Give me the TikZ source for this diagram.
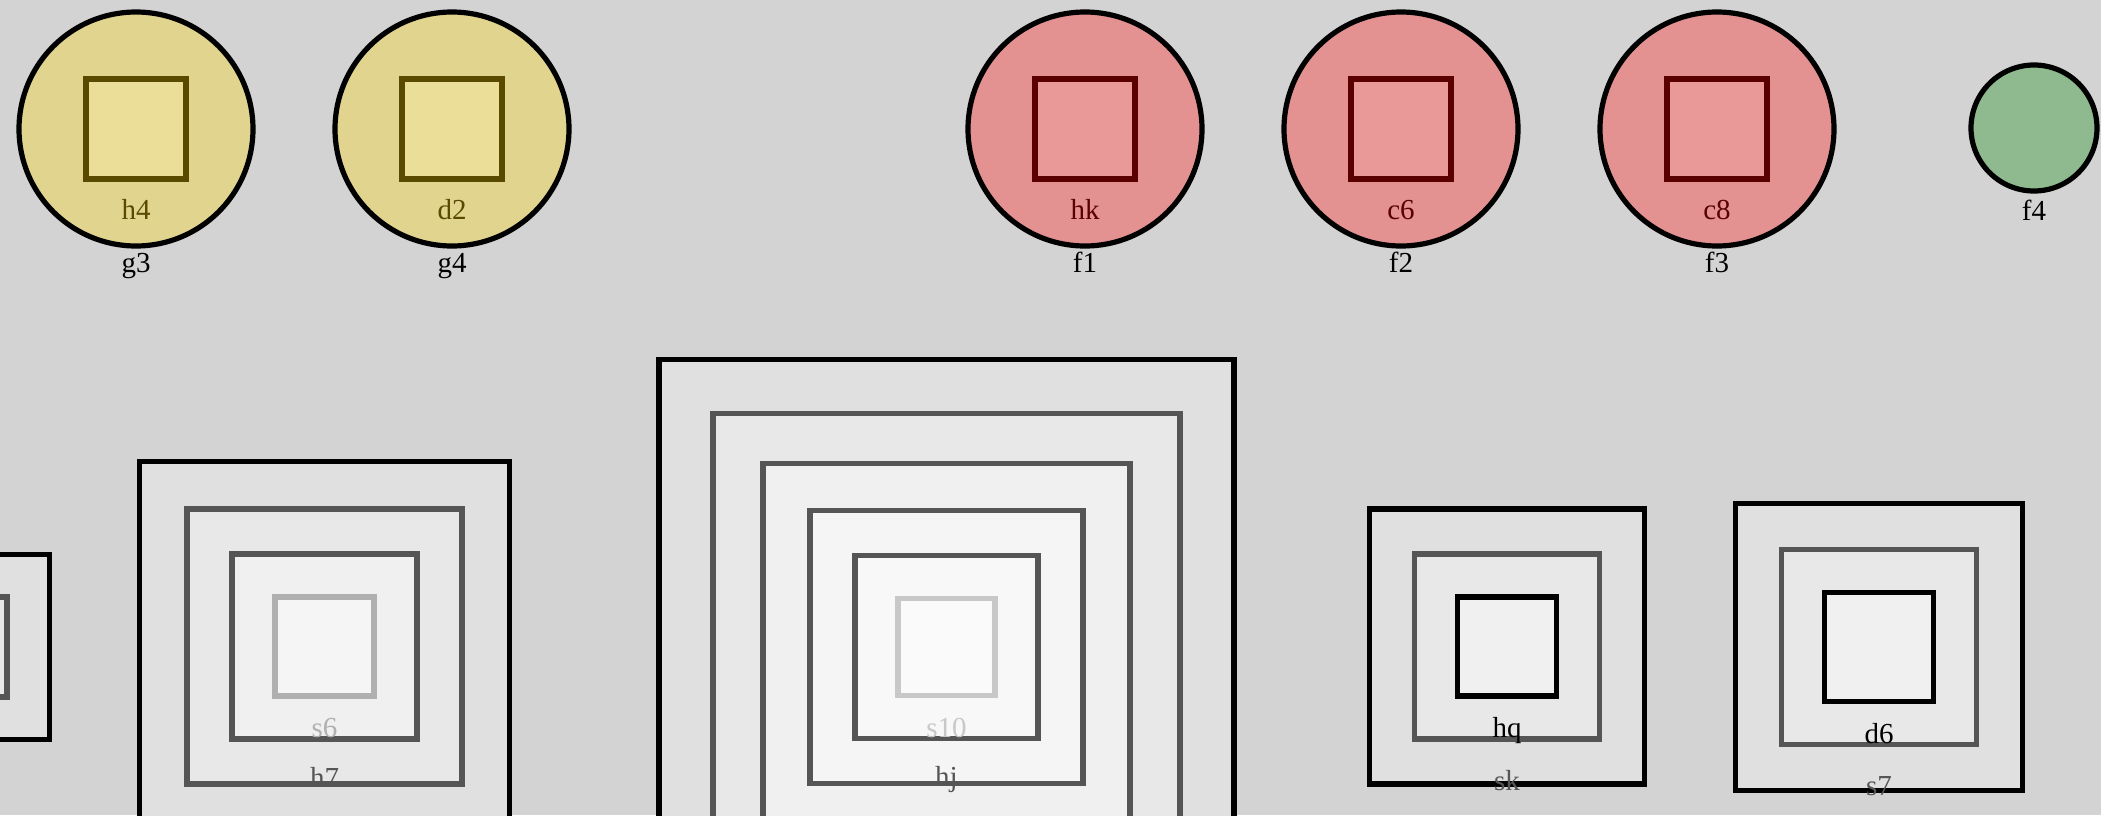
\documentclass[tikz,border=0pt]{standalone}
\usepackage{fontspec}
\setmainfont{Liberation Serif}
\definecolor{bgc}{HTML}{D3D3D3}
\definecolor{yfill}{HTML}{E1D48F}
\definecolor{yin}{HTML}{EADE98}
\definecolor{ystroke}{HTML}{5A4A00}
\definecolor{rfill}{HTML}{E39191}
\definecolor{rin}{HTML}{EA9999}
\definecolor{rstroke}{HTML}{5A0000}
\definecolor{gfill}{HTML}{8FBA8F}
\definecolor{cA}{HTML}{E0E0E0}
\definecolor{cB}{HTML}{E8E8E8}
\definecolor{cC}{HTML}{F0F0F0}
\definecolor{cD}{HTML}{F5F5F5}
\definecolor{cE}{HTML}{F8F8F8}
\definecolor{cF}{HTML}{FAFAFA}
\definecolor{dk}{HTML}{555555}
\definecolor{ltA}{HTML}{B0B0B0}
\definecolor{ltB}{HTML}{C8C8C8}
\tikzset{
  circ/.style={circle, draw=black, line width=2.6pt, inner sep=0pt, outer sep=0pt, minimum size=#1},
  box/.style={rectangle, line width=2.6pt, inner sep=0pt, outer sep=0pt, minimum size=#1},
  lab/.style={anchor=base, inner sep=0pt, font=\fontsize{14.5pt}{16pt}\selectfont},
}
\begin{document}
\begin{tikzpicture}[x=0.5pt,y=-0.5pt]
\fill[bgc] (0,0) rectangle (2101,815);
\useasboundingbox (0,0) rectangle (2101,815);
\clip (0,0) rectangle (2101,815);
% yellow circles
\node[circ=117pt, fill=yfill] (g3) at (136,129) {};
\node[box=50pt, fill=yin, draw=ystroke] (h4) at (136,129) {};
\node[lab, text=ystroke] (h4l) at (136,219) {h4};
\node[lab] (g3l) at (136,272) {g3};
\node[circ=117pt, fill=yfill] (g4) at (452,129) {};
\node[box=50pt, fill=yin, draw=ystroke] (d2) at (452,129) {};
\node[lab, text=ystroke] (d2l) at (452,219) {d2};
\node[lab] (g4l) at (452,272) {g4};
% red circles
\node[circ=117pt, fill=rfill] (f1) at (1085,129) {};
\node[box=50pt, fill=rin, draw=rstroke] (hk) at (1085,129) {};
\node[lab, text=rstroke] (hkl) at (1085,219) {hk};
\node[lab] (f1l) at (1085,272) {f1};
\node[circ=117pt, fill=rfill] (f2) at (1401,129) {};
\node[box=50pt, fill=rin, draw=rstroke] (c6) at (1401,129) {};
\node[lab, text=rstroke] (c6l) at (1401,219) {c6};
\node[lab] (f2l) at (1401,272) {f2};
\node[circ=117pt, fill=rfill] (f3) at (1717,129) {};
\node[box=50pt, fill=rin, draw=rstroke] (c8) at (1717,129) {};
\node[lab, text=rstroke] (c8l) at (1717,219) {c8};
\node[lab] (f3l) at (1717,272) {f3};
% green circle
\node[circ=63pt, fill=gfill] (f4) at (2034,128) {};
\node[lab] (f4l) at (2034,220) {f4};
% partial group at left edge
\node[box=92.5pt, fill=cA, draw=black] (pa) at (-43,647) {};
\node[box=50pt, fill=cB, draw=dk] (pb) at (-43,647) {};
% group h7
\node[box=185pt, fill=cA, draw=black] (b7o) at (324.5,646.5) {};
\node[box=137.5pt, fill=cB, draw=dk] (b7) at (324.5,646.5) {};
\node[box=92.5pt, fill=cC, draw=dk] (h7) at (324.5,646.5) {};
\node[box=49.5pt, fill=cD, draw=ltA] (s6) at (324.5,646.5) {};
\node[lab, text=ltA] (s6l) at (324.5,737) {s6};
\node[lab, text=dk] (h7l) at (324.5,787) {h7};
% group hj
\node[box=287.5pt, fill=cA, draw=black] (hjo) at (946.5,647) {};
\node[box=233.5pt, fill=cB, draw=dk] (hja) at (946.5,647) {};
\node[box=183.5pt, fill=cC, draw=dk] (hjb) at (946.5,647) {};
\node[box=136.5pt, fill=cD, draw=dk] (hjc) at (946.5,647) {};
\node[box=91.5pt, fill=cE, draw=dk] (hj) at (946.5,647) {};
\node[box=48.5pt, fill=cF, draw=ltB] (s10) at (946.5,647) {};
\node[lab, text=ltB] (s10l) at (946.5,737) {s10};
\node[lab, text=dk] (hjl) at (946.5,786) {hj};
% group sk
\node[box=137.5pt, fill=cA, draw=black] (sko) at (1507,646.5) {};
\node[box=92.5pt, fill=cB, draw=dk] (sk) at (1507,646.5) {};
\node[box=49.5pt, fill=cC, draw=black] (hq) at (1507,646.5) {};
\node[lab] (hql) at (1507,737) {hq};
\node[lab, text=dk] (skl) at (1507,790) {sk};
% group s7
\node[box=143.5pt, fill=cA, draw=black] (s7o) at (1879,647) {};
\node[box=97.5pt, fill=cB, draw=dk] (s7) at (1879,647) {};
\node[box=54.5pt, fill=cC, draw=black] (d6) at (1879,647) {};
\node[lab] (d6l) at (1879,743) {d6};
\node[lab, text=dk] (s7l) at (1879,795) {s7};
\end{tikzpicture}
\end{document}
